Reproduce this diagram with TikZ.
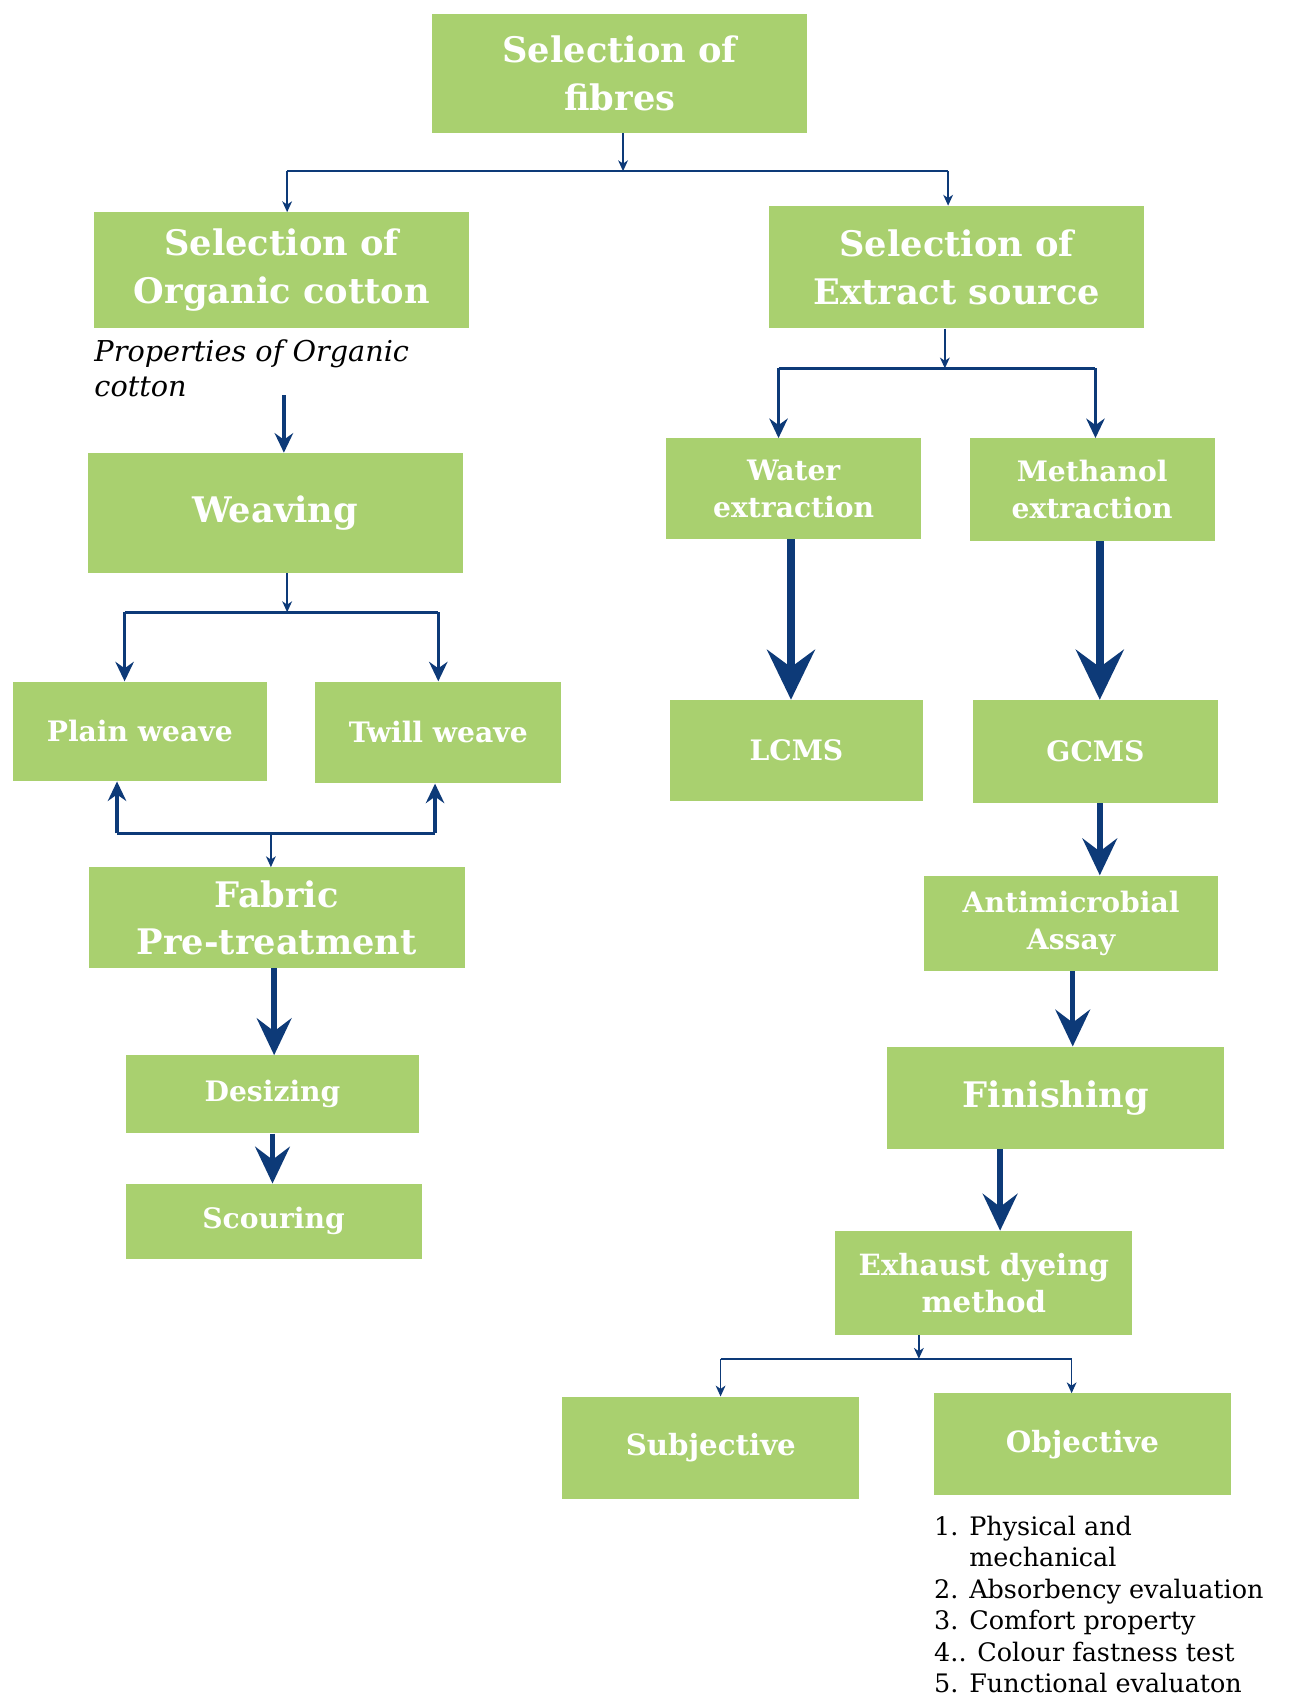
\documentclass[tikz,border=0pt]{standalone}
\usepackage{fontspec}
\setmainfont{DejaVu Serif}
\usetikzlibrary{arrows.meta}
\definecolor{boxgreen}{RGB}{169,208,111}
\definecolor{navy}{RGB}{13,58,120}
\tikzset{
  box/.style={fill=boxgreen, draw=none, text=white, align=center, inner sep=0pt},
  bigtxt/.style={font=\fontsize{32.5}{44}\selectfont\bfseries},
  midtxt/.style={font=\fontsize{26}{34}\selectfont\bfseries},
  lowtxt/.style={font=\fontsize{27}{34}\selectfont\bfseries},
  thinarr/.style={draw=navy, line width=1.5pt, -{Stealth[length=10pt,width=9pt,inset=3pt]}},
  thinline/.style={draw=navy, line width=1.5pt},
  medline/.style={draw=navy, line width=3pt},
  medarr/.style={draw=navy, line width=3pt, -{Stealth[length=18pt,width=17pt,inset=6pt]}},
  thickarr/.style={draw=navy, line width=5pt, -{Stealth[length=34pt,width=32pt,inset=12pt]}},
  hugearr/.style={draw=navy, line width=7.5pt, -{Stealth[length=46pt,width=44pt,inset=16pt]}},
}
\begin{document}
\begin{tikzpicture}[x=1pt,y=-1pt]
\useasboundingbox[fill=white] (0,0) rectangle (1191,1568);
% boxes
\node[box,bigtxt,minimum width=346pt,minimum height=110pt] (fibres) at (572,68) {Selection of\\fibres};
\node[box,bigtxt,minimum width=346pt,minimum height=107pt] (organic) at (260,249.5) {Selection of\\Organic cotton};
\node[box,bigtxt,minimum width=346pt,minimum height=113pt] (extract) at (883,246.5) {Selection of\\Extract source};
\node[box,bigtxt,minimum width=346pt,minimum height=111pt] (weaving) at (254,473.5) {Weaving};
\node[box,midtxt,minimum width=234pt,minimum height=92pt] (plain) at (129,675) {Plain weave};
\node[box,midtxt,minimum width=227pt,minimum height=94pt] (twill) at (404.5,676) {Twill weave};
\node[box,bigtxt,minimum width=347pt,minimum height=93pt] (fabric) at (255.5,847) {Fabric\\Pre-treatment};
\node[box,midtxt,minimum width=271pt,minimum height=72pt] (desizing) at (251.5,1010) {Desizing};
\node[box,midtxt,minimum width=273pt,minimum height=69pt] (scouring) at (252.5,1127) {Scouring};
\node[box,midtxt,minimum width=235pt,minimum height=93pt] (water) at (732.5,451) {Water\\extraction};
\node[box,midtxt,minimum width=226pt,minimum height=95pt] (methanol) at (1008,452) {Methanol\\extraction};
\node[box,midtxt,minimum width=234pt,minimum height=93pt] (lcms) at (735,692.5) {LCMS};
\node[box,midtxt,minimum width=226pt,minimum height=95pt] (gcms) at (1011,693.5) {GCMS};
\node[box,midtxt,minimum width=271pt,minimum height=88pt] (anti) at (988.5,852) {Antimicrobial\\Assay};
\node[box,bigtxt,minimum width=311pt,minimum height=94pt] (finishing) at (974.5,1013) {Finishing};
\node[box,lowtxt,minimum width=274pt,minimum height=96pt] (exhaust) at (908,1184) {Exhaust dyeing\\method};
\node[box,lowtxt,minimum width=274pt,minimum height=94pt] (subjective) at (656,1336) {Subjective};
\node[box,lowtxt,minimum width=274pt,minimum height=94pt] (objective) at (999,1333) {Objective};
% texts
\node[anchor=north west, align=left, inner sep=0pt, font=\fontsize{26.5}{33}\selectfont\itshape] (props) at (87,313) {Properties of Organic\\cotton};
\node[anchor=north west, align=left, inner sep=0pt, font=\fontsize{23.5}{29}\selectfont] (list) at (862,1399) {1. Physical and\\\phantom{1. }mechanical\\2. Absorbency evaluation\\3. Comfort property\\4.. Colour fastness test\\5. Functional evaluaton};
% junctions
\coordinate (j1) at (575,158);
\coordinate (pa) at (262,365);
\coordinate (j2) at (265,565);
\coordinate (j3) at (250,769);
\coordinate (j4) at (872,340);
\coordinate (j5) at (848,1254);
% connectors top
\draw[thinarr] (fibres.south -| j1) -- (j1);
\draw[thinline] ([xshift=5pt]organic.north |- j1) -- ([xshift=-8pt]extract.north |- j1);
\draw[thinarr] ([xshift=5pt]organic.north |- j1) -- ([xshift=5pt]organic.north);
\draw[thinarr] ([xshift=-8pt]extract.north |- j1) -- ([xshift=-8pt]extract.north);
% left column
\draw[medarr] (pa) -- (weaving.north -| pa);
\draw[thinarr] (weaving.south -| j2) -- (j2);
\draw[medline] ([xshift=-14pt]plain.north |- j2) -- ([xshift=0pt]twill.north |- j2);
\draw[medarr] ([xshift=-14pt]plain.north |- j2) -- ([xshift=-14pt]plain.north);
\draw[medarr] ([xshift=0pt]twill.north |- j2) -- ([xshift=0pt]twill.north);
\draw[medline] ([xshift=-21pt]plain.south |- j3) -- ([xshift=-3pt]twill.south |- j3);
\draw[medarr] ([xshift=-21pt]plain.south |- j3) -- ([xshift=-21pt]plain.south);
\draw[medarr] ([xshift=-3pt]twill.south |- j3) -- ([xshift=-3pt]twill.south);
\draw[thinarr] (j3) -- (fabric.north -| j3);
\draw[thickarr] ([xshift=-2.5pt]fabric.south) -- ([xshift=-2.5pt]fabric.south |- desizing.north);
\draw[thickarr] (desizing.south) -- (scouring.north -| desizing.south);
% right column
\draw[thinarr] (extract.south -| j4) -- (j4);
\draw[medline] ([xshift=-14pt]water.north |- j4) -- ([xshift=3pt]methanol.north |- j4);
\draw[medarr] ([xshift=-14pt]water.north |- j4) -- ([xshift=-14pt]water.north);
\draw[medarr] ([xshift=3pt]methanol.north |- j4) -- ([xshift=3pt]methanol.north);
\draw[hugearr] ([xshift=-2.5pt]water.south) -- ([xshift=-2.5pt]water.south |- lcms.north);
\draw[hugearr] ([xshift=7pt]methanol.south) -- ([xshift=7pt]methanol.south |- gcms.north);
\draw[thickarr] ([xshift=4pt]gcms.south) -- ([xshift=4pt]gcms.south |- anti.north);
\draw[thickarr] ([xshift=1.5pt]anti.south) -- ([xshift=1.5pt]anti.south |- finishing.north);
\draw[thickarr] ([xshift=-51.5pt]finishing.south) -- ([xshift=-51.5pt]finishing.south |- exhaust.north);
\draw[thinarr] (exhaust.south -| j5) -- (j5);
\draw[thinline] ([xshift=9pt]subjective.north |- j5) -- ([xshift=-10pt]objective.north |- j5);
\draw[thinarr] ([xshift=9pt]subjective.north |- j5) -- ([xshift=9pt]subjective.north);
\draw[thinarr] ([xshift=-10pt]objective.north |- j5) -- ([xshift=-10pt]objective.north);
\end{tikzpicture}
\end{document}
